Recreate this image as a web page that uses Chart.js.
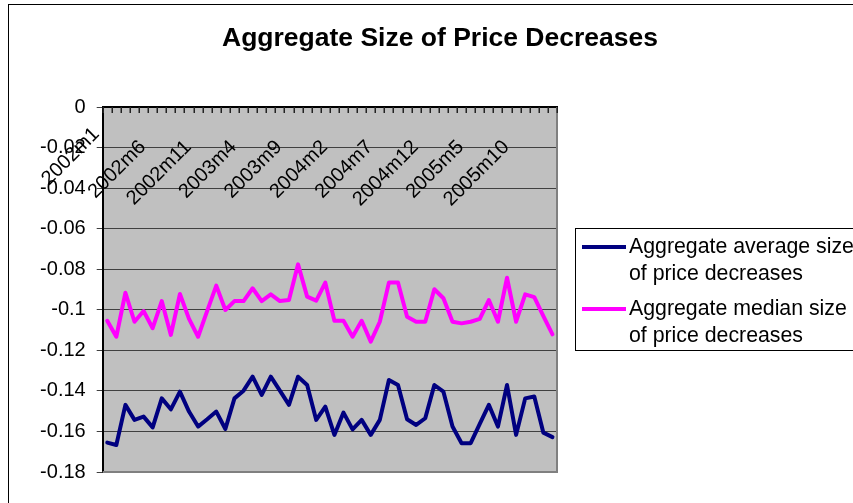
<!DOCTYPE html>
<html>
<head>
<meta charset="utf-8">
<script src="https://cdn.jsdelivr.net/npm/chart.js@4/dist/chart.umd.min.js"></script>
<style>
  html, body { margin: 0; padding: 0; background: #fff; }
  #wrap { width: 853px; height: 503px; position: relative; }
</style>
</head>
<body>
<div id="wrap"><canvas id="c" width="853" height="503"></canvas></div>
<script>
// Monthly categories
const months = [
  '2002m1','2002m2','2002m3','2002m4','2002m5','2002m6','2002m7','2002m8','2002m9','2002m10','2002m11','2002m12',
  '2003m1','2003m2','2003m3','2003m4','2003m5','2003m6','2003m7','2003m8','2003m9','2003m10','2003m11','2003m12',
  '2004m1','2004m2','2004m3','2004m4','2004m5','2004m6','2004m7','2004m8','2004m9','2004m10','2004m11','2004m12',
  '2005m1','2005m2','2005m3','2005m4','2005m5','2005m6','2005m7','2005m8','2005m9','2005m10','2005m11','2005m12',
  '2006m1','2006m2'
];

// Aggregate average size of price decreases
const avgSize = [
  -0.1655,-0.1667,-0.1469,-0.1543,-0.1527,-0.1580,-0.1437,-0.1491,-0.1404,-0.1502,
  -0.1576,-0.1540,-0.1502,-0.1588,-0.1437,-0.1399,-0.1330,-0.1420,-0.1330,-0.1399,
  -0.1469,-0.1330,-0.1371,-0.1543,-0.1478,-0.1617,-0.1507,-0.1590,-0.1543,-0.1617,
  -0.1543,-0.1346,-0.1371,-0.1540,-0.1568,-0.1535,-0.1371,-0.1404,-0.1576,-0.1658,
  -0.1658,-0.1563,-0.1469,-0.1576,-0.1371,-0.1617,-0.1437,-0.1428,-0.1606,-0.1628
];

// Aggregate median size of price decreases
const medSize = [
  -0.1054,-0.1133,-0.0916,-0.1059,-0.1006,-0.1091,-0.0957,-0.1124,-0.0922,-0.1045,
  -0.1133,-0.1005,-0.0881,-0.1001,-0.0957,-0.0957,-0.0894,-0.0957,-0.0924,-0.0957,
  -0.0952,-0.0776,-0.0935,-0.0955,-0.0866,-0.1054,-0.1054,-0.1133,-0.1054,-0.1157,
  -0.1059,-0.0866,-0.0866,-0.1034,-0.1059,-0.1059,-0.0899,-0.0943,-0.1059,-0.1067,
  -0.1059,-0.1045,-0.0952,-0.1059,-0.0842,-0.1059,-0.0924,-0.0938,-0.1031,-0.1121
];

// Legend text, one array of lines per series
const seriesNames = [
  ['Aggregate average size', 'of price decreases'],
  ['Aggregate median size', 'of price decreases']
];
const seriesColors = ['#000080', '#FF00FF'];

// Value-axis labels, from 0 down to -0.18
const yTickLabels = ['0','-0.02','-0.04','-0.06','-0.08','-0.1','-0.12','-0.14','-0.16','-0.18'];

const chartTitle = 'Aggregate Size of Price Decreases';
const labelEvery = 5;

const FONT = '"Liberation Sans", Arial, sans-serif';

// Frame, grey plot area, category labels, title and boxed legend
const excelLook = {
  id: 'excelLook',
  beforeDraw(chart) {
    const { ctx, chartArea: a } = chart;
    ctx.save();
    ctx.fillStyle = '#fff';
    ctx.fillRect(0, 0, chart.width, chart.height);
    ctx.strokeStyle = '#000';
    ctx.lineWidth = 1;
    ctx.strokeRect(8.5, 4.5, 860, 520);
    ctx.fillStyle = '#C0C0C0';
    ctx.fillRect(a.left, a.top, a.right - a.left, a.bottom - a.top);
    ctx.restore();
  },
  beforeDatasetsDraw(chart) {
    const { ctx, chartArea: a, scales: { x } } = chart;
    ctx.save();
    // plot-area border on the right and bottom
    ctx.strokeStyle = '#808080';
    ctx.lineWidth = 2;
    ctx.beginPath();
    ctx.moveTo(a.right, a.top);
    ctx.lineTo(a.right, a.bottom);
    ctx.lineTo(a.left, a.bottom);
    ctx.stroke();
    // category tick marks, pointing into the plot
    const n = months.length;
    const step = (a.right - a.left) / n;
    ctx.strokeStyle = '#222';
    ctx.lineWidth = 1.5;
    ctx.beginPath();
    for (let i = 0; i <= n; i++) {
      const px = Math.round(a.left + i * step) + 0.25;
      ctx.moveTo(px, a.top);
      ctx.lineTo(px, a.top + 6);
    }
    ctx.stroke();
    // rotated category labels under the top axis;
    // the first one is lifted toward the axis corner
    ctx.fillStyle = '#000';
    ctx.font = '20px ' + FONT;
    ctx.textAlign = 'right';
    ctx.textBaseline = 'middle';
    for (let i = 0; i < n; i += labelEvery) {
      const px = x.getPixelForValue(i);
      const ax = i === 0 ? px - 11 : px - 10;
      const ay = i === 0 ? a.top + 24 : a.top + 37;
      ctx.save();
      ctx.translate(ax, ay);
      ctx.rotate(-Math.PI / 4);
      ctx.fillText(months[i], 0, 0);
      ctx.restore();
    }
    ctx.restore();
  },
  afterDraw(chart) {
    const { ctx } = chart;
    ctx.save();
    // title
    ctx.fillStyle = '#000';
    ctx.font = 'bold 26.5px ' + FONT;
    ctx.textAlign = 'center';
    ctx.textBaseline = 'middle';
    ctx.fillText(chartTitle, 440, 39);
    // legend box
    ctx.strokeStyle = '#000';
    ctx.lineWidth = 1;
    ctx.fillStyle = '#fff';
    ctx.fillRect(575, 228, 300, 122);
    ctx.strokeRect(575.5, 228.5, 300, 122);
    ctx.font = '21.3px ' + FONT;
    ctx.textAlign = 'left';
    ctx.textBaseline = 'middle';
    chart.data.datasets.forEach((ds, k) => {
      const y0 = 247 + k * 62;
      ctx.strokeStyle = ds.borderColor;
      ctx.lineWidth = 4;
      ctx.beginPath();
      ctx.moveTo(582, y0);
      ctx.lineTo(626, y0);
      ctx.stroke();
      ctx.fillStyle = '#000';
      ds.label.forEach((line, j) => ctx.fillText(line, 629, y0 + j * 27));
    });
    ctx.restore();
  }
};

new Chart(document.getElementById('c'), {
  type: 'line',
  data: {
    labels: months,
    datasets: [
      { label: seriesNames[0], data: avgSize, borderColor: seriesColors[0], borderWidth: 4,
        pointRadius: 0, tension: 0, fill: false, borderJoinStyle: 'round', borderCapStyle: 'round' },
      { label: seriesNames[1], data: medSize, borderColor: seriesColors[1], borderWidth: 4,
        pointRadius: 0, tension: 0, fill: false, borderJoinStyle: 'round', borderCapStyle: 'round' }
    ]
  },
  options: {
    responsive: false,
    animation: false,
    devicePixelRatio: 1,
    layout: { padding: { left: 0, right: 296, top: 107, bottom: 31 } },
    plugins: {
      legend: { display: false },
      title: { display: false },
      tooltip: { enabled: false }
    },
    scales: {
      x: {
        type: 'category',
        position: 'top',
        offset: true,
        ticks: { display: false },
        grid: { display: false },
        border: { display: true, color: '#000', width: 2 },
        afterFit: s => { s.height = 0; }
      },
      y: {
        min: -0.18,
        max: 0,
        ticks: {
          stepSize: 0.02,
          color: '#000',
          font: { family: FONT, size: 20 },
          padding: 11,
          callback: v => yTickLabels[Math.round(-v / 0.02)]
        },
        grid: { color: '#404040', lineWidth: 1, tickLength: 6 },
        border: { color: '#000', width: 2 },
        afterFit: s => { s.width = 102.7; }
      }
    }
  },
  plugins: [excelLook]
});
</script>
</body>
</html>
